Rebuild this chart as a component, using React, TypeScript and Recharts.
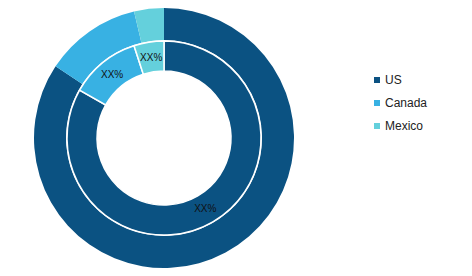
import { PieChart, Pie, Cell, Legend } from "recharts";

const regions = ["US", "Canada", "Mexico"];
const colors = ["#0b5282", "#38b1e3", "#64d0dc"];
const outerShare = [84.3, 12.0, 3.7];
const innerShare = [83.2, 11.8, 5.0];
const innerLabels = ["XX%", "XX%", "XX%"];

const outerData = regions.map((name, i) => ({ name, value: outerShare[i] }));
const innerData = regions.map((name, i) => ({
  name,
  value: innerShare[i],
  label: innerLabels[i],
}));

const RAD = Math.PI / 180;

const renderLabel = (props: any) => {
  const { cx, cy, midAngle, innerRadius, outerRadius, payload } = props;
  const r = (innerRadius + outerRadius) / 2;
  const x = cx + r * Math.cos(-midAngle * RAD);
  const y = cy + r * Math.sin(-midAngle * RAD);
  return (
    <text
      x={x}
      y={y}
      fill="#111"
      fontSize={10}
      fontFamily="Liberation Sans, Arial, sans-serif"
      textAnchor="middle"
      dominantBaseline="central"
    >
      {payload.label}
    </text>
  );
};

const renderLegend = () => (
  <div style={{ fontFamily: "Liberation Sans, Arial, sans-serif", fontSize: 12, color: "#222" }}>
    {regions.map((name, i) => (
      <div
        key={name}
        style={{ display: "flex", alignItems: "center", height: 23 }}
      >
        <span
          style={{
            width: 6,
            height: 6,
            background: colors[i],
            display: "inline-block",
            marginRight: 5,
          }}
        />
        {name}
      </div>
    ))}
  </div>
);

export default function App() {
  return (
    <div style={{ position: "absolute", left: 0, top: 0, width: 472, height: 276, background: "#fff" }}>
      <PieChart width={472} height={276} margin={{ top: 0, right: 0, bottom: 0, left: 0 }}>
        <Pie
          data={outerData}
          dataKey="value"
          cx={164}
          cy={138}
          innerRadius={98}
          outerRadius={130}
          startAngle={90}
          endAngle={-270}
          stroke="none"
          isAnimationActive={false}
        >
          {outerData.map((d, i) => (
            <Cell key={d.name} fill={colors[i]} />
          ))}
        </Pie>
        <Pie
          data={innerData}
          dataKey="value"
          cx={164}
          cy={138}
          innerRadius={67}
          outerRadius={97}
          startAngle={90}
          endAngle={-270}
          stroke="#fff"
          strokeWidth={1.5}
          label={renderLabel}
          labelLine={false}
          isAnimationActive={false}
        >
          {innerData.map((d, i) => (
            <Cell key={d.name} fill={colors[i]} />
          ))}
        </Pie>
        <Legend
          content={renderLegend}
          layout="vertical"
          wrapperStyle={{ left: 374, top: 68, width: 90 }}
        />
      </PieChart>
    </div>
  );
}
